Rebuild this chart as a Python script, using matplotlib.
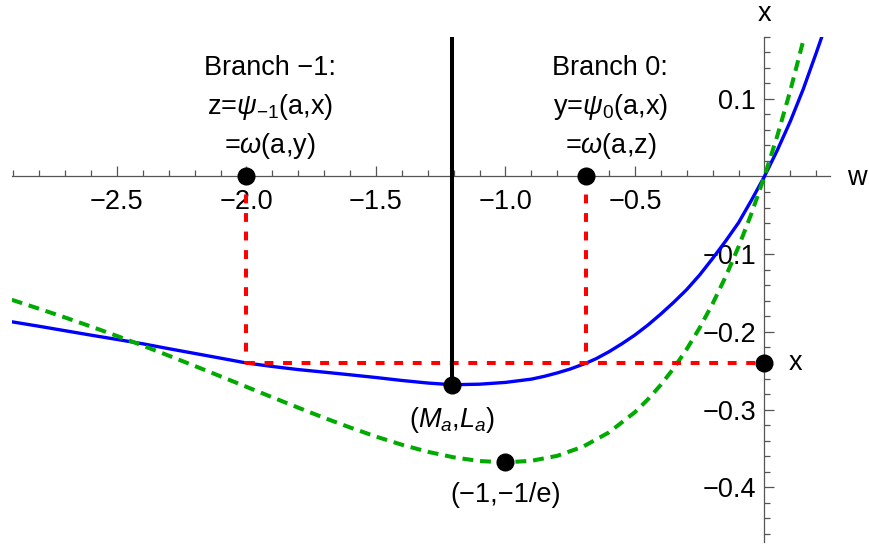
import matplotlib
matplotlib.use('Agg')
import matplotlib.pyplot as plt
from matplotlib.ticker import FixedLocator, FixedFormatter

plt.rcParams['font.family'] = ['Liberation Sans', 'DejaVu Sans']
plt.rcParams['mathtext.fontset'] = 'custom'
plt.rcParams['mathtext.rm'] = 'Liberation Sans'
plt.rcParams['mathtext.it'] = 'Liberation Sans:italic'
plt.rcParams['mathtext.bf'] = 'Liberation Sans:bold'

# ---- data ----
green_w = [-2.906, -2.8, -2.7, -2.6, -2.5, -2.4, -2.3, -2.2, -2.1, -2.0, -1.9, -1.8,
           -1.7, -1.6, -1.5, -1.4, -1.3, -1.2, -1.1, -1.0, -0.9, -0.8, -0.7, -0.6,
           -0.5, -0.45, -0.4, -0.35, -0.3, -0.25, -0.2, -0.15, -0.1, -0.05, 0.0,
           0.05, 0.1, 0.16]
green_x = [-0.1587, -0.1703, -0.1815, -0.1931, -0.2052, -0.2177, -0.2306, -0.2438,
           -0.2572, -0.2707, -0.2842, -0.2975, -0.3106, -0.3230, -0.3347, -0.3452,
           -0.3543, -0.3614, -0.3662, -0.3679, -0.3659, -0.3595, -0.3476, -0.3293,
           -0.3033, -0.2869, -0.2681, -0.2467, -0.2222, -0.1947, -0.1637, -0.1291,
           -0.0905, -0.0476, 0.0, 0.0526, 0.1105, 0.1878]

blue_w = [-2.906, -2.8, -2.7, -2.6, -2.5, -2.4, -2.3, -2.2, -2.1, -2.0, -1.9, -1.8,
          -1.7, -1.6, -1.5, -1.4, -1.3, -1.206, -1.1, -1.0, -0.9, -0.85, -0.8,
          -0.75, -0.687, -0.65, -0.6, -0.55, -0.5, -0.45, -0.4, -0.35, -0.3,
          -0.25, -0.2, -0.15, -0.1, -0.05, 0.0, 0.05, 0.1, 0.15, 0.2, 0.221]
blue_x = [-0.1870, -0.1928, -0.1985, -0.2042, -0.2097, -0.2153, -0.2216, -0.2277,
          -0.2338, -0.2400, -0.2445, -0.2485, -0.2518, -0.2552, -0.2587, -0.2625,
          -0.2658, -0.2680, -0.2673, -0.2650, -0.2608, -0.2572, -0.2528, -0.2478,
          -0.2400, -0.2345, -0.2255, -0.2152, -0.2040, -0.1912, -0.1770, -0.1618,
          -0.1455, -0.1267, -0.1055, -0.0832, -0.0595, -0.0305, 0.0, 0.0340,
          0.0710, 0.1125, 0.1590, 0.1792]

z_w = -2.0          # branch -1 point
y_w = -0.687        # branch 0 point
x_level = -0.240    # level x
Ma, La = -1.206, -0.268
min_w, min_x = -1.0, -0.3679

xticks = [-2.5, -2.0, -1.5, -1.0, -0.5]
xtick_labels = ['\u22122.5', '\u22122.0', '\u22121.5', '\u22121.0', '\u22120.5']
xminor = [-2.9, -2.8, -2.7, -2.6, -2.4, -2.3, -2.2, -2.1, -1.9, -1.8, -1.7, -1.6,
          -1.4, -1.3, -1.2, -1.1, -0.9, -0.8, -0.7, -0.6, -0.4, -0.3, -0.2, -0.1,
          0.1, 0.2]
yticks = [0.1, -0.1, -0.2, -0.3, -0.4]
ytick_labels = ['0.1', '\u22120.1', '\u22120.2', '\u22120.3', '\u22120.4']
yminor = [0.18, 0.16, 0.14, 0.12, 0.08, 0.06, 0.04, 0.02,
          -0.02, -0.04, -0.06, -0.08, -0.12, -0.14, -0.16, -0.18,
          -0.22, -0.24, -0.26, -0.28, -0.32, -0.34, -0.36, -0.38,
          -0.42, -0.44, -0.46]

# ---- figure ----
FS = 19.5
fig = plt.figure(figsize=(8.7, 5.49), dpi=100)
ax = fig.add_axes([0.01356, 0.0133, 0.9410, 0.92])
ax.set_xlim(-2.906, 0.255)
ax.set_ylim(-0.470, 0.180)

axcol = '#555555'
for s in ['top', 'right']:
    ax.spines[s].set_visible(False)
ax.spines['left'].set_position(('data', 0))
ax.spines['bottom'].set_position(('data', 0))
for s in ['left', 'bottom']:
    ax.spines[s].set_color(axcol)
    ax.spines[s].set_linewidth(0.9)

ax.xaxis.set_major_locator(FixedLocator(xticks))
ax.xaxis.set_major_formatter(FixedFormatter(xtick_labels))
ax.xaxis.set_minor_locator(FixedLocator(xminor))
ax.yaxis.set_major_locator(FixedLocator(yticks))
ax.yaxis.set_major_formatter(FixedFormatter(ytick_labels))
ax.yaxis.set_minor_locator(FixedLocator(yminor))

ax.tick_params(axis='both', which='major', direction='in', length=7, width=0.9,
               color=axcol, labelcolor='black', labelsize=FS)
ax.tick_params(axis='both', which='minor', direction='in', length=4, width=0.9,
               color=axcol)
ax.tick_params(axis='x', which='major', pad=9)
ax.tick_params(axis='y', which='major', pad=6)

# curves
ax.plot(blue_w, blue_x, color='#0000FF', lw=2.4, zorder=3,
        solid_joinstyle='round')
ax.plot(green_w, green_x, color='#00AA00', lw=2.9, zorder=3.5,
        linestyle=(0, (2.7, 1.7)), dash_capstyle='butt', dash_joinstyle='round')

red_kw = dict(color='#FF0000', lw=2.9, linestyle=(0, (2.2, 2.4)),
              dash_capstyle='butt', zorder=4)
ax.plot([z_w, z_w], [0, x_level], **red_kw)
ax.plot([y_w, y_w], [0, x_level], **red_kw)
ax.plot([z_w, 0], [x_level, x_level], **red_kw)

ax.plot([Ma, Ma], [0.180, La], color='black', lw=2.9, zorder=4.5,
        solid_capstyle='butt')

ax.plot([z_w, y_w, 0, Ma, min_w], [0, 0, x_level, La, min_x], 'o',
        color='black', ms=12, zorder=6, clip_on=False)

# texts
txt = dict(fontsize=FS, ha='center', va='baseline', color='black')
ax.text(-1.908, 0.1306, 'Branch \u22121:', **txt)
ax.text(-1.908, 0.0804, r'z=$\psi_{\mathrm{-1}}$(a,x)', **txt)
ax.text(-1.908, 0.0299, r'=$\omega$(a,y)', **txt)
ax.text(-0.595, 0.1306, 'Branch 0:', **txt)
ax.text(-0.595, 0.0804, r'y=$\psi_{\mathrm{0}}$(a,x)', **txt)
ax.text(-0.595, 0.0299, r'=$\omega$(a,z)', **txt)
ax.text(Ma, -0.322, r'($M_a$,$L_a$)', **txt)
ax.text(min_w, -0.419, '(\u22121,\u22121/e)', **txt)
ax.text(0.1216, -0.249, 'x', clip_on=False, **txt)
ax.text(0.0, 0.2000, 'x', clip_on=False, **txt)
ax.text(0.357, -0.0109, 'w', clip_on=False, **txt)

fig.savefig('out.png', dpi=100)
